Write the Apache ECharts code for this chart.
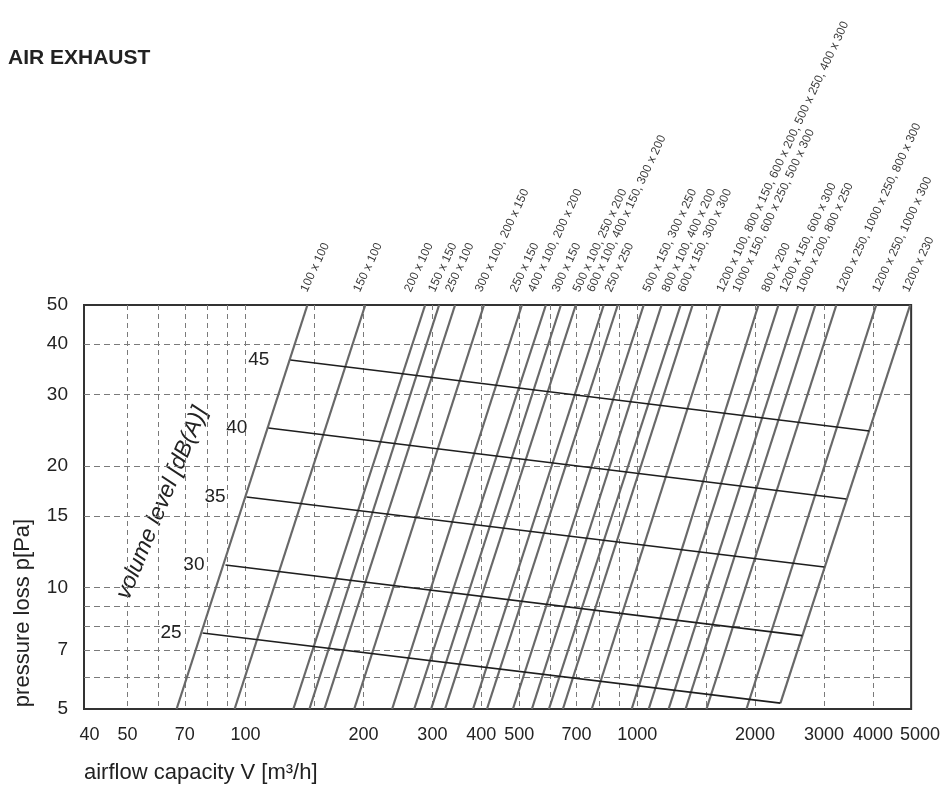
<!DOCTYPE html>
<html>
<head>
<meta charset="utf-8">
<title>Air exhaust</title>
<script src="https://cdn.jsdelivr.net/npm/echarts@6/dist/echarts.min.js"></script>
<style>
  html, body { margin: 0; padding: 0; background: #fff; }
  #chart { width: 943px; height: 787px; }
</style>
</head>
<body>
<div id="chart"></div>
<script>
// axis ticks / grid positions
const xLabels = [40, 50, 70, 100, 200, 300, 400, 500, 700, 1000, 2000, 3000, 4000, 5000];
const xGrid = [50, 60, 70, 80, 90, 100, 150, 200, 300, 400, 500, 600, 700, 800, 900, 1000, 1500, 2000, 3000, 4000];
const yLabels = [5, 7, 10, 15, 20, 30, 40, 50];
const yGrid = [6, 7, 8, 9, 10, 15, 20, 30, 40];

// duct lines: [airflow, pressure] at lower and upper end
const ductLow = [
  [66.7, 5], [93.8, 5], [132.5, 5], [145.6, 5], [159, 5], [189.5, 5], [236.8, 5], [269.6, 5],
  [297.8, 5], [323.2, 5], [381, 5], [413.5, 5], [481.6, 5], [538.5, 5], [595.2, 5], [646.1, 5],
  [765.6, 5], [968.2, 5], [1070, 5], [1203, 5], [1329, 5], [1503, 5], [1901, 5], [2321, 5.17]
];
const ductHigh = [
  [143.9, 50], [202.2, 50], [287.5, 50], [312.1, 50], [342.8, 50], [406.3, 50], [507.8, 50], [584.6, 50],
  [638.6, 50], [697, 50], [821.5, 50], [891.9, 50], [1039, 50], [1154, 50], [1291, 50], [1385, 50],
  [1632, 50], [2040, 50], [2294, 50], [2579, 50], [2850, 50], [3224, 50], [4075, 50], [4975, 50]
];

// duct size labels above the plot and the airflow where each one starts
const ductNames = [
  '100 x 100', '150 x 100', '200 x 100', '150 x 150', '250 x 100', '300 x 100, 200 x 150',
  '250 x 150', '400 x 100, 200 x 200', '300 x 150', '500 x 100, 250 x 200',
  '600 x 100, 400 x 150, 300 x 200', '250 x 250', '500 x 150, 300 x 250', '800 x 100, 400 x 200',
  '600 x 150, 300 x 300', '1200 x 100, 800 x 150, 600 x 200, 500 x 250, 400 x 300',
  '1000 x 150, 600 x 250, 500 x 300', '800 x 200', '1200 x 150, 600 x 300', '1000 x 200, 800 x 250',
  '1200 x 250, 1000 x 250, 800 x 300', '1200 x 250, 1000 x 300', '1200 x 230'
];
const ductNameV = [
  145.6, 198.7, 267.9, 308.4, 340.8, 406.3, 499, 555, 638.6, 722.1, 784.3, 871.2,
  1089, 1217, 1337, 1681, 1846, 2188, 2432, 2688, 3398, 4197, 5004
];
const ductNameP = 53.3;

// sound level lines [dB(A)]
const levels = [25, 30, 35, 40, 45];
const levelStart = [[77.7, 7.71], [88.9, 11.36], [100.6, 16.74], [114.4, 24.8], [130.2, 36.55]];
const levelEnd = [[2321, 5.17], [2640, 7.6], [3004, 11.23], [3418, 16.55], [3913, 24.38]];

const SANS = '"Liberation Sans", Arial, sans-serif';

const chart = echarts.init(document.getElementById('chart'), null, { renderer: 'canvas' });

const series = [];
ductLow.forEach((lo, i) => {
  series.push({
    type: 'line', name: 'duct' + i, data: [lo, ductHigh[i]],
    showSymbol: false, silent: true, z: 2,
    lineStyle: { color: '#686868', width: 2.2 }
  });
});
levels.forEach((lv, i) => {
  series.push({
    type: 'line', name: String(lv), z: 3, silent: true,
    showSymbol: true, symbol: 'circle', symbolSize: 0,
    itemStyle: { color: 'rgba(0,0,0,0)' },
    data: [
      { value: levelStart[i], label: { show: true } },
      levelEnd[i]
    ],
    label: {
      show: false, position: 'left', distance: 21,
      formatter: String(lv), fontFamily: SANS, fontSize: 19, color: '#222'
    },
    lineStyle: { color: '#1e1e1e', width: 1.7 }
  });
});
series.push({
  type: 'scatter', name: 'sizes', clip: false, silent: true, z: 4,
  symbolSize: 1, itemStyle: { color: 'rgba(0,0,0,0)' },
  data: ductNames.map((n, i) => [ductNameV[i], ductNameP, n]),
  label: {
    show: true, position: 'inside', rotate: 65, align: 'left', verticalAlign: 'bottom',
    formatter: p => p.data[2], fontFamily: SANS, fontSize: 12, color: '#000'
  }
});

// the last two x labels sit close together; list the max first so neither is dropped
const xMaxLabel = xLabels[xLabels.length - 1];
const xLabelOrder = [xMaxLabel].concat(xLabels.slice(0, -1));

chart.setOption({
  animation: false,
  backgroundColor: '#fff',
  title: {
    text: 'AIR EXHAUST', left: 8, top: 48, padding: 0,
    textStyle: { fontFamily: SANS, fontWeight: 'bold', fontSize: 21, color: '#222' }
  },
  grid: {
    left: 84, right: 31, top: 305, bottom: 78,
    show: true, borderColor: '#333', borderWidth: 2, backgroundColor: 'transparent'
  },
  xAxis: {
    type: 'log', logBase: 10, min: 38.7, max: 5005,
    axisLine: { show: false },
    axisTick: { show: false, customValues: xGrid },
    axisLabel: {
      customValues: xLabelOrder, margin: 17, fontFamily: SANS, fontSize: 18, color: '#222',
      showMinLabel: true, showMaxLabel: true, hideOverlap: false,
      formatter: v => {
        const n = Math.round(v);
        return n === xMaxLabel ? '{m|' + n + '}' : String(n);
      },
      rich: {
        m: { fontFamily: SANS, fontSize: 18, color: '#222', padding: [0, 0, 0, 18] }
      }
    },
    splitLine: { show: true, lineStyle: { color: '#7a7a7a', width: 1, type: [5, 4] } }
  },
  yAxis: {
    type: 'log', logBase: 10, min: 5, max: 50,
    axisLine: { show: false },
    axisTick: { show: false, customValues: yGrid },
    axisLabel: {
      customValues: yLabels, margin: 16, fontFamily: SANS, fontSize: 19, color: '#222',
      showMinLabel: true, showMaxLabel: true,
      formatter: v => String(Math.round(v))
    },
    splitLine: { show: true, lineStyle: { color: '#7a7a7a', width: 1, type: [6, 4] } }
  },
  graphic: [
    {
      type: 'text', x: 23, y: 613, rotation: Math.PI / 2, silent: true,
      style: {
        text: 'pressure loss p[Pa]', fontFamily: SANS, fontSize: 22, fill: '#222',
        textAlign: 'center', textVerticalAlign: 'middle'
      }
    },
    {
      type: 'text', x: 84, y: 773, silent: true,
      style: {
        text: 'airflow capacity V [m³/h]', fontFamily: SANS, fontSize: 22, fill: '#222',
        textAlign: 'left', textVerticalAlign: 'middle'
      }
    },
    {
      type: 'text', x: 162, y: 503, rotation: 67.6 * Math.PI / 180, silent: true,
      style: {
        text: 'volume level [dB(A)]', fontFamily: SANS, fontStyle: 'italic', fontSize: 23, fill: '#222',
        textAlign: 'center', textVerticalAlign: 'middle'
      }
    }
  ],
  series
});
</script>
</body>
</html>
